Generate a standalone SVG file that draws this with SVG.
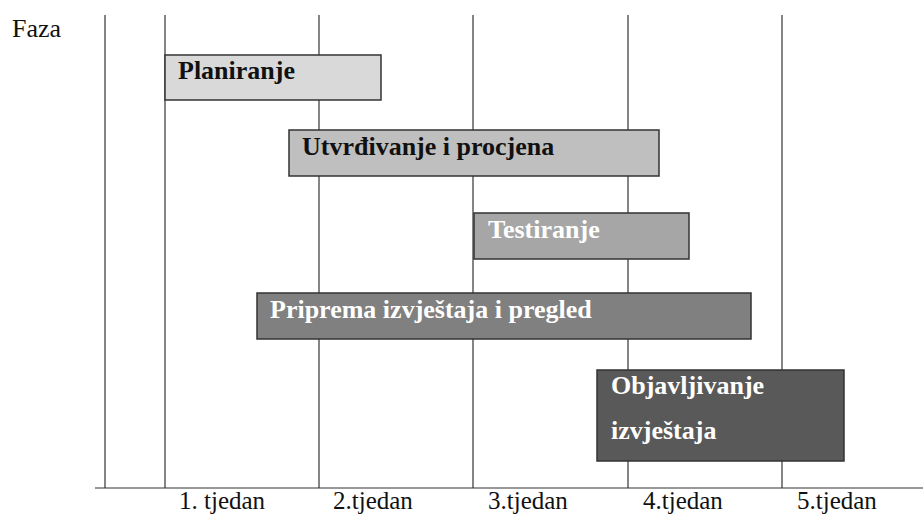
<svg xmlns="http://www.w3.org/2000/svg" width="923" height="516" viewBox="0 0 923 516">
<style>
.grid{stroke:#333;stroke-width:1.2;fill:none}
.box{stroke:#333;stroke-width:1.5}
.lbl{font-family:"Liberation Serif","Times New Roman",serif;font-size:26px;font-weight:bold}
.ax{font-family:"Liberation Serif","Times New Roman",serif;font-size:26px;fill:#111}
.wk{font-family:"Liberation Serif","Times New Roman",serif;font-size:25px;fill:#111}
</style>
<rect width="923" height="516" fill="#fff"/>
<g id="connectors">
<line class="grid" x1="105" y1="15" x2="105" y2="488"/>
<line class="grid" x1="165" y1="15" x2="165" y2="488"/>
<line class="grid" x1="319" y1="15" x2="319" y2="488"/>
<line class="grid" x1="473" y1="15" x2="473" y2="488"/>
<line class="grid" x1="628" y1="15" x2="628" y2="488"/>
<line class="grid" x1="782" y1="15" x2="782" y2="488"/>
<line class="grid" x1="95" y1="488" x2="923" y2="488"/>
</g>
<g id="axis-labels">
<text class="ax" x="12" y="37">Faza</text>
<text class="wk" x="179" y="509">1. tjedan</text>
<text class="wk" x="333" y="509">2.tjedan</text>
<text class="wk" x="488" y="509">3.tjedan</text>
<text class="wk" x="643" y="509">4.tjedan</text>
<text class="wk" x="797" y="509">5.tjedan</text>
</g>
<g id="planiranje">
<rect class="box" x="165" y="55" width="216" height="45" fill="#d9d9d9"/>
<text class="lbl" x="178" y="79" fill="#111">Planiranje</text>
</g>
<g id="utvrdivanje">
<rect class="box" x="289" y="130" width="370" height="46" fill="#bfbfbf"/>
<text class="lbl" x="302" y="155" fill="#111">Utvrđivanje i procjena</text>
</g>
<g id="testiranje">
<rect class="box" x="474" y="213" width="215" height="46" fill="#a6a6a6"/>
<text class="lbl" x="488" y="238" fill="#fff">Testiranje</text>
</g>
<g id="priprema">
<rect class="box" x="257" y="293" width="494" height="46" fill="#808080"/>
<text class="lbl" x="270" y="318" fill="#fff">Priprema izvještaja i pregled</text>
</g>
<g id="objavljivanje">
<rect class="box" x="597" y="370" width="247" height="91" fill="#595959"/>
<text class="lbl" x="611" y="394" fill="#fff">Objavljivanje</text>
<text class="lbl" x="611" y="439" fill="#fff">izvještaja</text>
</g>
</svg>
